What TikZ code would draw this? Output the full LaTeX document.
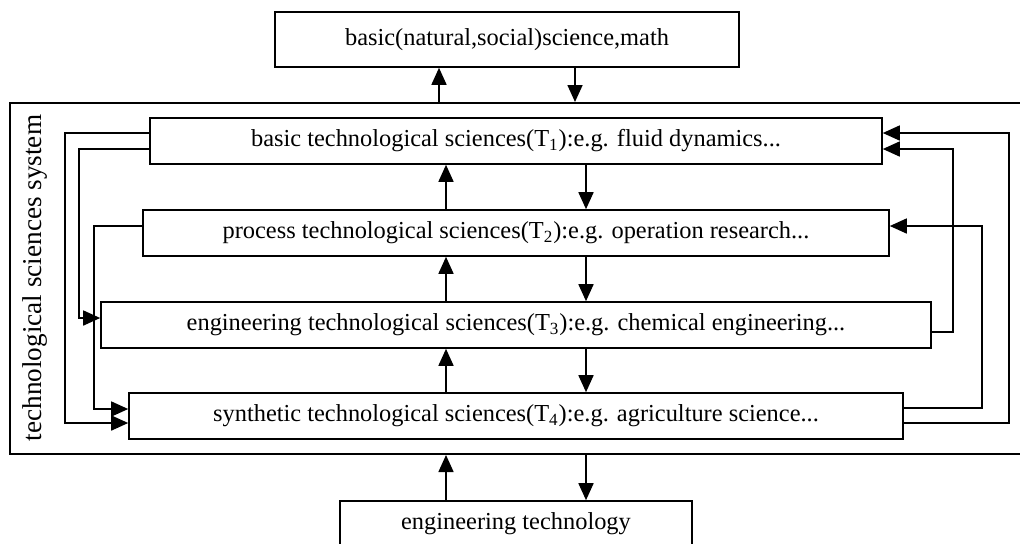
\documentclass[tikz,border=0pt]{standalone}
\usepackage{fontspec}
\setmainfont{Liberation Serif}
\usetikzlibrary{arrows.meta}

\begin{document}
\begin{tikzpicture}[x=0.5pt, y=-0.5pt,
  >={Triangle[length=8.5pt, width=7.5pt]},
  level/.style={draw, line width=0.8pt, inner sep=0pt, minimum height=23pt}]

  \useasboundingbox (0,0) rectangle (1020,543);
  \newcommand\Dx{35pt}

  \fontsize{12.2}{14}\selectfont
  \node[level, minimum width=232pt, minimum height=27.5pt]
  (base) at (507,39.5) {basic(natural,social)science,math};
  \node[draw, line width=1pt, inner sep=0pt,
  minimum width=507pt, minimum height=175.5pt] (sys) at (517,278.5) {};
  \node[rotate=90, font=\fontsize{13.6}{16}\selectfont]
  (syslabel) at (35,278) {technological sciences system};

  \node[level, minimum width=366pt] (t1) at (516,141)
  {basic technological sciences(T\textsubscript{1}):e.g. fluid dynamics...};
  \node[level, minimum width=373pt] (t2) at (516,233)
  {process technological sciences(T\textsubscript{2}):e.g. operation research...};
  \node[level, minimum width=415pt] (t3) at (516,325)
  {engineering technological sciences(T\textsubscript{3}):e.g. chemical engineering...};
  \node[level, minimum width=387pt] (t4) at (516,416)
  {synthetic technological sciences(T\textsubscript{4}):e.g. agriculture science...};
  \node[level, minimum width=176pt] (eng) at (516,524) {engineering technology};

  \begin{scope}[line width=0.8pt]
  % up and down between the levels
  \draw[<-] ([xshift=-34pt]base.south) --
  ([xshift=-34pt]base.south |- sys.north);
  \draw[->] ([xshift=34pt]base.south) --
  ([xshift=34pt]base.south |- sys.north);
  \foreach \a/\b in {t1/t2, t2/t3, t3/t4}{
    \draw[->] ([xshift=-\Dx]\b.north) -- ([xshift=-\Dx]\a.south);
    \draw[->] ([xshift=\Dx]\a.south) -- ([xshift=\Dx]\b.north);
  }
  \draw[->] ([xshift=-\Dx]eng.north) --
  ([xshift=-\Dx]eng.north |- sys.south);
  \draw[<-] ([xshift=\Dx]eng.north) --
  ([xshift=\Dx]eng.north |- sys.south);

  % feedback on the left
  \draw[->] ([yshift=4pt]t1.west) -- ++(-42pt,0)
  |- ([yshift=-3.5pt]t4.west);
  \draw[->] ([yshift=-4pt]t1.west) -- ++(-35pt,0)
  |- ([yshift=3.5pt]t3.west);
  \draw[->] ([yshift=3.5pt]t2.west) -- ++(-24pt,0)
  |- ([yshift=3.5pt]t4.west);

  % feedback on the right
  \draw[->] ([yshift=-3.5pt]t4.east) -- ++(52.5pt,0)
  |- ([yshift=4pt]t1.east);
  \draw[->] ([yshift=-3.5pt]t3.east) -- ++(10.5pt,0)
  |- ([yshift=-4pt]t1.east);
  \draw[->] ([yshift=4pt]t4.east) -- ++(39pt,0)
  |- ([yshift=3.5pt]t2.east);
  \end{scope}

\end{tikzpicture}
\end{document}
